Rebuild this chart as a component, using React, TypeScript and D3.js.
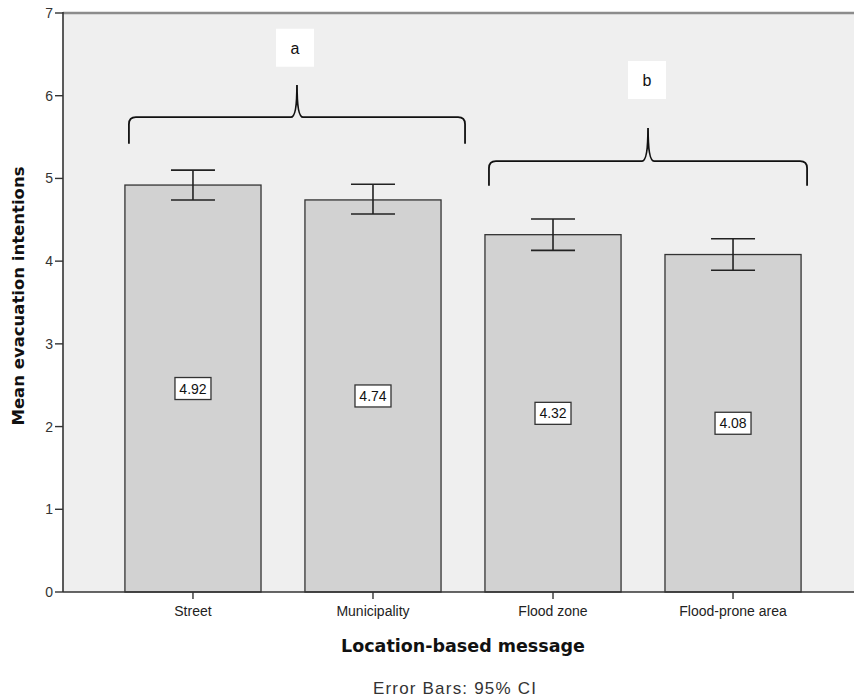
import * as d3 from 'd3'

const categories = ['Street', 'Municipality', 'Flood zone', 'Flood-prone area']
const means = [4.92, 4.74, 4.32, 4.08]
const ciLow = [4.74, 4.57, 4.13, 3.89]
const ciHigh = [5.1, 4.93, 4.51, 4.27]
const yTicks = [0, 1, 2, 3, 4, 5, 6, 7]

// significance groups: first/last category index, brace levels in data units
const groupLabels = ['a', 'b']
const groupFrom = [0, 2]
const groupTo = [1, 3]
const braceEnd = [5.42, 4.91]
const braceLine = [5.74, 5.21]
const bracePeak = [6.13, 5.61]
const labelLevel = [6.58, 6.19]

const W = 854
const H = 697

export default function App() {
  const left = 63
  const top = 13
  const bottom = 592

  const x = d3.scaleBand<string>()
    .domain(categories)
    .range([left, 863])
    .paddingInner(0.244)
    .paddingOuter(0.344)

  const y = d3.scaleLinear().domain([0, 7]).range([bottom, top])
  const bw = x.bandwidth()

  const bracePath = (i: number) => {
    const x0 = x(categories[groupFrom[i]])! + 4
    const x1 = x(categories[groupTo[i]])! + bw + (i === 0 ? 24 : 6)
    const xm = (x0 + x1) / 2
    const ye = y(braceEnd[i])
    const yh = y(braceLine[i])
    const yp = y(bracePeak[i])
    const r = 7
    return `M${x0},${ye} L${x0},${yh + r} Q${x0},${yh} ${x0 + r},${yh} L${xm - 6},${yh} Q${xm},${yh} ${xm},${yp} Q${xm},${yh} ${xm + 6},${yh} L${x1 - r},${yh} Q${x1},${yh} ${x1},${yh + r} L${x1},${ye}`
  }

  return (
    <div style={{ position: 'absolute', left: 0, top: 0 }}>
      <svg width={W} height={H} style={{ display: 'block', background: '#fff' }}>
        {/* plot background */}
        <rect x={left} y={top} width={W - left} height={bottom - top} fill="#efefef" />
        <line x1={left} x2={W} y1={top} y2={top} stroke="#8c8c8c" strokeWidth={2.5} />

        {/* bars */}
        {categories.map((c, i) => (
          <rect key={c} x={x(c)} y={y(means[i])} width={bw} height={y(0) - y(means[i])}
            fill="#d2d2d2" stroke="#333" strokeWidth={1.3} />
        ))}

        {/* error bars */}
        {categories.map((c, i) => {
          const cx = x(c)! + bw / 2
          return (
            <g key={c} stroke="#222" strokeWidth={1.6}>
              <line x1={cx} x2={cx} y1={y(ciLow[i])} y2={y(ciHigh[i])} />
              <line x1={cx - 22} x2={cx + 22} y1={y(ciLow[i])} y2={y(ciLow[i])} />
              <line x1={cx - 22} x2={cx + 22} y1={y(ciHigh[i])} y2={y(ciHigh[i])} />
            </g>
          )
        })}

        {/* value labels */}
        {categories.map((c, i) => {
          const cx = x(c)! + bw / 2
          const cy = y(means[i] / 2)
          return (
            <g key={c}>
              <rect x={cx - 18} y={cy - 11} width={36} height={22} fill="#fff" stroke="#333" strokeWidth={1.3} />
              <text x={cx} y={cy + 5} textAnchor="middle" fontFamily="Liberation Sans, Arial, sans-serif"
                fontSize={14} fill="#111">{means[i].toFixed(2)}</text>
            </g>
          )
        })}

        {/* braces and group labels */}
        {groupLabels.map((g, i) => {
          const x0 = x(categories[groupFrom[i]])!
          const x1 = x(categories[groupTo[i]])! + bw
          const lx = (x0 + x1) / 2 + (i === 0 ? 12 : 4)
          const ly = y(labelLevel[i])
          return (
            <g key={g}>
              <path d={bracePath(i)} fill="none" stroke="#111" strokeWidth={1.8} />
              <rect x={lx - 19} y={ly - 19} width={38} height={38} fill="#fff" />
              <text x={lx} y={ly + 6} textAnchor="middle" fontFamily="Liberation Sans, Arial, sans-serif"
                fontSize={16} fill="#111">{g}</text>
            </g>
          )
        })}

        {/* axes */}
        <line x1={left} x2={W} y1={bottom} y2={bottom} stroke="#333" strokeWidth={1.6} />
        <line x1={left} x2={left} y1={top - 1} y2={bottom} stroke="#333" strokeWidth={1.6} />
        {yTicks.map(t => (
          <g key={t}>
            <line x1={left - 8} x2={left} y1={y(t)} y2={y(t)} stroke="#333" strokeWidth={1.4} />
            <text x={left - 10} y={y(t) + 5} textAnchor="end" fontFamily="Liberation Sans, Arial, sans-serif"
              fontSize={14} fill="#333">{t}</text>
          </g>
        ))}
        {categories.map(c => {
          const cx = x(c)! + bw / 2
          return (
            <g key={c}>
              <line x1={cx} x2={cx} y1={bottom} y2={bottom + 7} stroke="#333" strokeWidth={1.4} />
              <text x={cx} y={bottom + 24} textAnchor="middle" fontFamily="Liberation Sans, Arial, sans-serif"
                fontSize={14} fill="#222">{c}</text>
            </g>
          )
        })}

        {/* titles */}
        <text x={463} y={652} textAnchor="middle" fontFamily="DejaVu Sans, Verdana, sans-serif"
          fontWeight="bold" fontSize={17.5} fill="#111">Location-based message</text>
        <text transform={`translate(24,${(154 + 438) / 2}) rotate(-90)`} textAnchor="middle"
          fontFamily="DejaVu Sans, Verdana, sans-serif" fontWeight="bold" fontSize={16.5} fill="#111">
          Mean evacuation intentions
        </text>
        <text x={455} y={694} textAnchor="middle" fontFamily="Liberation Sans, Arial, sans-serif"
          fontSize={17} letterSpacing={1.2} fill="#333">Error Bars: 95% CI</text>
      </svg>
    </div>
  )
}
